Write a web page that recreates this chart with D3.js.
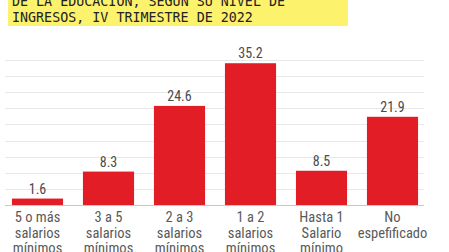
<!DOCTYPE html>
<html lang="es">
<head>
<meta charset="utf-8">
<title>Ingresos IV trimestre 2022</title>
<style>
  body { margin: 0; background: #fff; }
  .title { font-family: "DejaVu Sans Mono", monospace; font-size: 14px; fill: #222; }
  .val { font-family: "Liberation Sans Narrow", "Roboto Condensed", sans-serif; font-size: 14px; fill: #4a4a4a; }
  .cat { font-family: "Liberation Sans Narrow", "Roboto Condensed", sans-serif; font-size: 14.5px; fill: #5a5a5a; }
  .grid line { stroke: #e8e8e8; stroke-width: 1; }
</style>
</head>
<body>
<div id="chart"></div>
<script src="https://cdn.jsdelivr.net/npm/d3@7"></script>
<script>
var width = 449, height = 252;

// ------ data ------
var categories = ["5 o más salarios mínimos", "3 a 5 salarios mínimos", "2 a 3 salarios mínimos",
                  "1 a 2 salarios mínimos", "Hasta 1 Salario mínimo", "No espefificado"];
var catLines = [["5 o más", "salarios", "mínimos"], ["3 a 5", "salarios", "mínimos"],
                ["2 a 3", "salarios", "mínimos"], ["1 a 2", "salarios", "mínimos"],
                ["Hasta 1", "Salario", "mínimo"], ["No", "espefificado"]];
var values = [1.6, 8.3, 24.6, 35.2, 8.5, 21.9];
var gridValues = [4, 8, 12, 16, 20, 24, 28, 32, 36];
var titleLines = ["DE LA EDUCACIÓN, SEGÚN SU NIVEL DE", "INGRESOS, IV TRIMESTRE DE 2022"];

var svg = d3.select("#chart").append("svg")
    .attr("width", width)
    .attr("height", height);

// title box (cut at top)
svg.append("rect")
    .attr("x", 8).attr("y", -10)
    .attr("width", 340).attr("height", 36)
    .attr("fill", "#fcf26c");

svg.selectAll(".title").data(titleLines).enter().append("text")
    .attr("class", "title")
    .attr("x", 12)
    .attr("y", function(d, i){ return 6 + i * 16; })
    .attr("textLength", function(d){ return d.length * 8.03; })
    .attr("lengthAdjust", "spacingAndGlyphs")
    .text(function(d){ return d; });

var x = d3.scaleBand()
    .domain(categories)
    .range([2, 428])
    .paddingInner(0.28)
    .paddingOuter(0.14);

var y = d3.scaleLinear()
    .domain([0, 36])
    .range([205, 60]);

// gridlines
svg.append("g").attr("class", "grid")
  .selectAll("line").data(gridValues).enter().append("line")
    .attr("x1", 5).attr("x2", 424)
    .attr("y1", function(d){ return Math.round(y(d)) + 0.5; })
    .attr("y2", function(d){ return Math.round(y(d)) + 0.5; });

// bars
svg.selectAll(".bar").data(values).enter().append("rect")
    .attr("class", "bar")
    .attr("x", function(d, i){ return x(categories[i]); })
    .attr("width", x.bandwidth())
    .attr("y", function(d){ return y(d); })
    .attr("height", function(d){ return y(0) - y(d); })
    .attr("fill", "#e21d26");

// baseline
svg.append("line")
    .attr("x1", 5).attr("x2", 424)
    .attr("y1", y(0) + 0.5).attr("y2", y(0) + 0.5)
    .attr("stroke", "#c8c8c8");

// value labels
svg.selectAll(".val").data(values).enter().append("text")
    .attr("class", "val")
    .attr("text-anchor", "middle")
    .attr("x", function(d, i){ return x(categories[i]) + x.bandwidth() / 2; })
    .attr("y", function(d){ return y(d) - 5; })
    .text(function(d){ return d.toFixed(1); });

// category labels
var cat = svg.selectAll(".cat").data(catLines).enter().append("text")
    .attr("class", "cat")
    .attr("text-anchor", "middle")
    .attr("x", function(d, i){ return x(categories[i]) + x.bandwidth() / 2; });
cat.selectAll("tspan").data(function(d){ return d; }).enter().append("tspan")
    .attr("x", function(){ return d3.select(this.parentNode).attr("x"); })
    .attr("y", function(d, i){ return 222 + i * 15.5; })
    .text(function(d){ return d; });
</script>
</body>
</html>
